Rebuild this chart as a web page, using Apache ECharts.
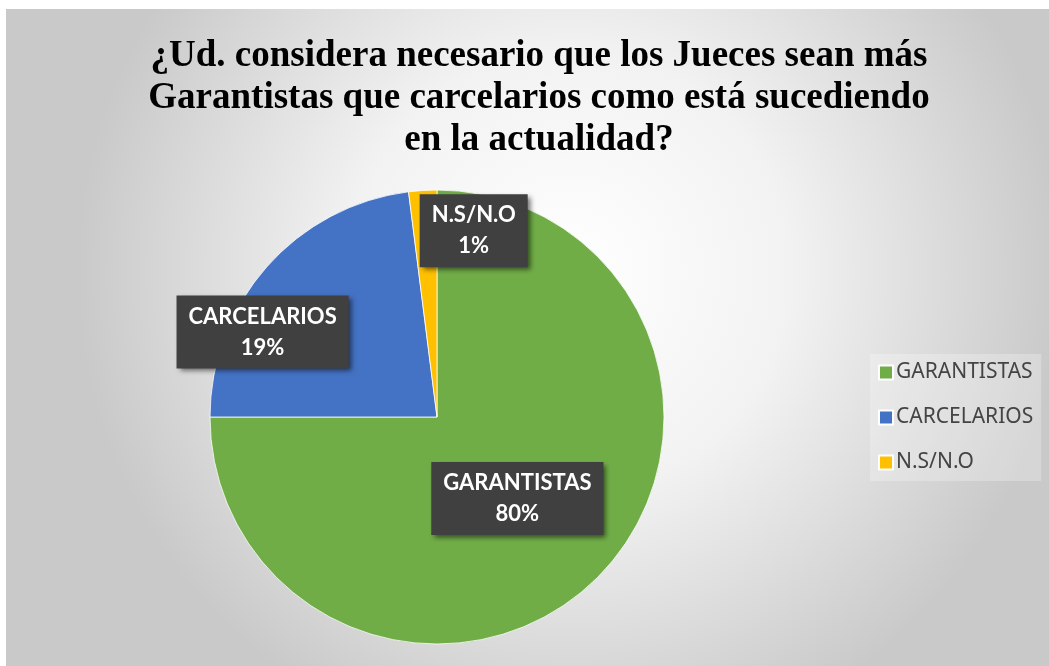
<!DOCTYPE html>
<html>
<head>
<meta charset="utf-8">
<script src="https://cdn.jsdelivr.net/npm/echarts@6/dist/echarts.min.js"></script>
<style>
html,body{margin:0;padding:0;background:#fff;}
#main{width:1049px;height:666px;}
</style>
</head>
<body>
<div id="main"></div>
<script>
// Data
const titleText = '¿Ud. considera necesario que los Jueces sean más\nGarantistas que carcelarios como está sucediendo\nen la actualidad?';
const categories = ['GARANTISTAS', 'CARCELARIOS', 'N.S/N.O'];
const sliceValues = [75, 23, 2];          // slice sizes as drawn
const shownPercents = [80, 19, 1];        // percentages printed on the labels
const colors = ['#70AD47', '#4472C4', '#FFC000'];

const labelOffsets = [[-2, -1], [-87, -8], [44, -70]];

const chart = echarts.init(document.getElementById('main'), null, {renderer: 'canvas'});
chart.setOption({
  animation: false,
  backgroundColor: '#ffffff',
  graphic: [{
    type: 'rect', z: -10, silent: true,
    shape: {x: 6, y: 9, width: 1049 - 6, height: 666 - 9},
    style: {
      fill: new echarts.graphic.RadialGradient(0.54, 0.4, 0.75, [
        {offset: 0, color: '#ffffff'},
        {offset: 0.45, color: '#f2f2f2'},
        {offset: 1, color: '#c9c9c9'}
      ])
    }
  }],
  title: {
    text: titleText,
    left: 534, top: 30, textAlign: 'center',
    textStyle: {
      fontFamily: 'Liberation Serif', fontWeight: 'bold', fontSize: 37,
      lineHeight: 42, color: '#000'
    }
  },
  legend: {
    orient: 'vertical', left: 870, top: 354,
    itemWidth: 14, itemHeight: 14, itemGap: 24,
    icon: 'rect', padding: [8, 8, 8, 8],
    backgroundColor: 'rgba(255,255,255,0.25)',
    textStyle: {fontFamily: 'Noto Sans', fontSize: 21, lineHeight: 21, color: '#444444', padding: [0, 0, 0, -2]},
    data: categories
  },
  series: [{
    type: 'pie',
    center: [437, 417],
    radius: [0, 227],
    startAngle: 90,
    clockwise: true,
    avoidLabelOverlap: false,
    itemStyle: {borderColor: '#ffffff', borderWidth: 0.8},
    label: {
      show: true, position: 'inside',
      formatter: p => categories[p.dataIndex] + '\n' + shownPercents[p.dataIndex] + '%',
      color: '#ffffff', fontFamily: 'Lato', fontWeight: 'bold', fontSize: 22,
      lineHeight: 31, align: 'center',
      backgroundColor: '#404040', padding: [6, 12, 5, 12],
      shadowColor: 'rgba(0,0,0,0.55)', shadowBlur: 5, shadowOffsetX: 3, shadowOffsetY: 3
    },
    labelLine: {show: false},
    labelLayout: p => ({dx: labelOffsets[p.dataIndex][0], dy: labelOffsets[p.dataIndex][1]}),
    data: categories.map((c, i) => ({name: c, value: sliceValues[i], itemStyle: {color: colors[i]}}))
  }]
});
</script>
</body>
</html>
